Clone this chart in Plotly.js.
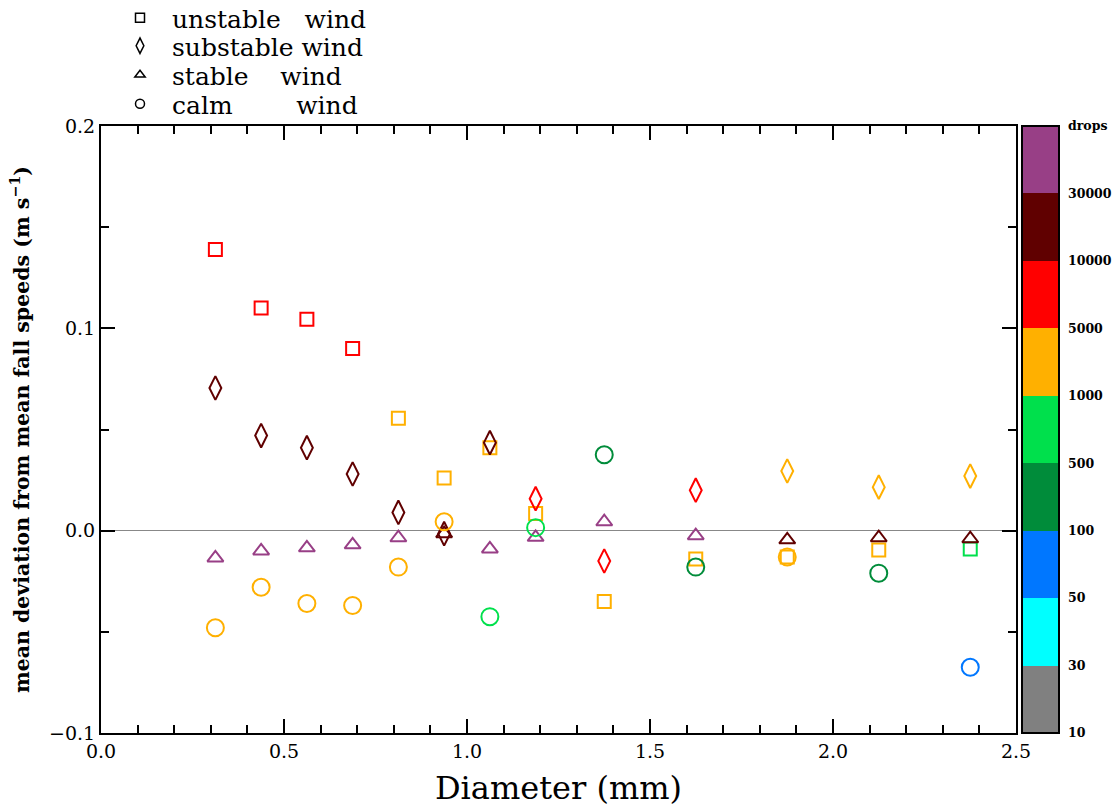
<!DOCTYPE html>
<html>
<head>
<meta charset="utf-8">
<script src="https://cdn.plot.ly/plotly-3.0.1.min.js"></script>
<style>html,body{margin:0;padding:0;background:#fff;}#chart{width:1115px;height:810px;}</style>
</head>
<body>
<div id="chart"></div>
<script>
// Diameter class centres (mm)
const diameters = [0.3125, 0.4375, 0.5625, 0.6875, 0.8125, 0.9375, 1.0625, 1.1875, 1.375, 1.625, 1.875, 2.125, 2.375];

// Mean deviation from mean fall speeds (m s-1)
const unstableVals   = [0.139, 0.110, 0.1045, 0.090, 0.0555, 0.026, 0.041, 0.0085, -0.035, -0.014, -0.013, -0.0095, -0.009];
const substableVals  = [0.0705, 0.047, 0.041, 0.028, 0.009, -0.0015, 0.0435, 0.0158, -0.015, 0.020, 0.0295, 0.0215, 0.027];
const stableVals     = [-0.0135, -0.010, -0.0085, -0.007, -0.0035, -0.0015, -0.009, -0.0033, 0.0044, -0.0025, -0.0045, -0.0035, -0.004];
const calmVals       = [-0.048, -0.028, -0.036, -0.037, -0.018, 0.0044, -0.0425, 0.0015, 0.0375, -0.018, -0.013, -0.021, -0.0675];

// Drop-count class index of every point (0:10-30, 1:30-50, 2:50-100, 3:100-500, 4:500-1000,
// 5:1000-5000, 6:5000-10000, 7:10000-30000, 8:>30000)
const unstableBins   = [6, 6, 6, 6, 5, 5, 5, 5, 5, 5, 5, 5, 4];
const substableBins  = [7, 7, 7, 7, 7, 7, 7, 6, 6, 6, 5, 5, 5];
const stableBins     = [8, 8, 8, 8, 8, 7, 8, 8, 8, 8, 7, 7, 7];
const calmBins       = [5, 5, 5, 5, 5, 5, 4, 4, 3, 3, 5, 3, 2];

const seriesNames = ['unstable\u00a0\u00a0\u00a0wind', 'substable\u00a0wind', 'stable\u00a0\u00a0\u00a0\u00a0wind', 'calm\u00a0\u00a0\u00a0\u00a0\u00a0\u00a0\u00a0\u00a0wind'];
const classColors = ['#808080', '#00ffff', '#0077ff', '#008c3a', '#00e04c', '#ffb000', '#ff0000', '#600000', '#983f86'];
const colorbarLabels = ['10', '30', '50', '100', '500', '1000', '5000', '10000', '30000', 'drops'];

const nClass = classColors.length;
const colorscale = [];
classColors.forEach((c, i) => { colorscale.push([i / nClass, c]); colorscale.push([(i + 1) / nClass, c]); });
const mid = a => a.map(b => b + 0.5);

const symbols = ['square-open', 'diamond-tall-open', 'triangle-up-open', 'circle-open'];
const sizes = [13, 17, 14, 17];
const vals = [unstableVals, substableVals, stableVals, calmVals];
const bins = [unstableBins, substableBins, stableBins, calmBins];

const traces = [];
vals.forEach((v, i) => {
  const t = {
    type: 'scatter', mode: 'markers', x: diameters, y: v, showlegend: false,
    marker: { symbol: symbols[i], size: sizes[i], color: mid(bins[i]), colorscale: colorscale, cmin: 0, cmax: nClass,
              line: { width: 2 } }
  };
  if (i === 0) {
    t.marker.showscale = true;
    t.marker.colorbar = {
      x: (1022 - 101) / 915, xanchor: 'left', xpad: 0, y: 0.5, yanchor: 'middle', ypad: 0,
      len: 1, lenmode: 'fraction', thickness: 37, thicknessmode: 'pixels',
      outlinewidth: 2, outlinecolor: '#000',
      tickmode: 'array', tickvals: colorbarLabels.map((_, k) => k), ticktext: colorbarLabels,
      ticks: 'outside', ticklen: 6, tickcolor: 'rgba(0,0,0,0)',
      tickfont: { family: 'DejaVu Serif', size: 12.5, color: '#000', weight: 'bold' }
    };
  }
  traces.push(t);
});
// legend entries (black symbols), one small legend per row
const legendIds = ['legend', 'legend2', 'legend3', 'legend4'];
seriesNames.forEach((n, i) => {
  traces.push({ type: 'scatter', mode: 'markers', x: [null], y: [null], name: n, showlegend: true, legend: legendIds[i],
    marker: { symbol: symbols[i], size: i === 1 ? 11 : 9, color: '#000', line: { width: 1.5, color: '#000' } } });
});

// separators between colour bands
const shapes = [];
for (let k = 1; k < nClass; k++) {
  shapes.push({ type: 'line', xref: 'paper', yref: 'paper', x0: (1022 - 101) / 915, x1: (1059 - 101) / 915,
    y0: k / nClass, y1: k / nClass, line: { color: '#000', width: 2 } });
}

const axisFont = { family: 'DejaVu Serif', size: 19, color: '#000' };
const layout = {
  width: 1115, height: 810,
  margin: { l: 101, r: 99, t: 126, b: 77, autoexpand: false },
  paper_bgcolor: '#fff', plot_bgcolor: '#fff',
  showlegend: true,
  xaxis: {
    range: [0, 2.5], dtick: 0.5, tick0: 0, tickformat: '.1f',
    showline: true, linewidth: 2, linecolor: '#000', mirror: 'ticks',
    ticks: 'inside', ticklen: 14, tickwidth: 2, tickcolor: '#000',
    minor: { dtick: 0.1, ticks: 'inside', ticklen: 8, tickwidth: 2, tickcolor: '#000' },
    showgrid: false, zeroline: false, tickfont: axisFont,
    title: { text: 'Diameter (mm)', font: { family: 'DejaVu Serif', size: 32, color: '#000' }, standoff: 16 }
  },
  yaxis: {
    range: [-0.1, 0.2], dtick: 0.1, tick0: 0, tickformat: '.1f',
    showline: true, linewidth: 2, linecolor: '#000', mirror: 'ticks',
    ticks: 'inside', ticklen: 14, tickwidth: 2, tickcolor: '#000',
    minor: { dtick: 0.05, ticks: 'inside', ticklen: 8, tickwidth: 2, tickcolor: '#000' },
    showgrid: false, zeroline: true, zerolinecolor: '#888', zerolinewidth: 1.2,
    tickfont: axisFont,
    title: { text: 'mean deviation from mean fall speeds (m s<sup>\u22121</sup>)', font: { family: 'DejaVu Serif', size: 20.5, color: '#000', weight: 'bold' }, standoff: 14 }
  },
  shapes: shapes
};
const rowCentres = [18, 46, 75, 104];
legendIds.forEach((id, i) => {
  layout[id] = { x: (108 - 101) / 915, xanchor: 'left', y: 1 + (126 - rowCentres[i]) / 607, yanchor: 'middle',
    font: { family: 'DejaVu Serif', size: 25, color: '#000' }, bgcolor: 'rgba(0,0,0,0)',
    itemsizing: 'trace', itemwidth: 54 };
});

Plotly.newPlot('chart', traces, layout, { displayModeBar: false, staticPlot: true });
</script>
</body>
</html>
